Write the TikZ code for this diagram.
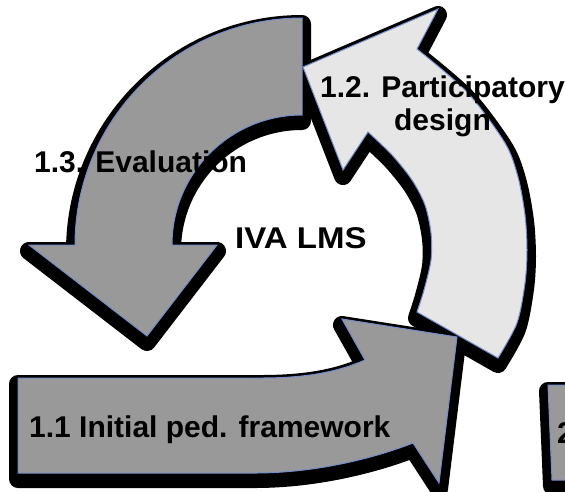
\documentclass[tikz,border=0pt]{standalone}
\usepackage{fontspec}
\setmainfont{Liberation Sans}
\usepackage{graphicx}
\definecolor{edgeblue}{RGB}{116,140,200}
\definecolor{darkfill}{RGB}{153,153,153}
\definecolor{lightfill}{RGB}{230,230,230}
\newcommand\ArrowOneThree{(302,18) arc[start angle=-90,end angle=-180,radius=227] -- (29,245) -- (147,336) -- (217,245) -- (172,245) arc[start angle=-180,end angle=-90,radius=130] -- cycle}
\newcommand\ArrowOneTwo{(303,67) -- (438,9) -- (417,49) -- plot[smooth] coordinates {(417,49) (467,92) (505,143) (518,177) (525,215) (527,250) (525,283) (517,323) (498,358)} -- (417,312) -- plot[smooth] coordinates {(417,312) (424,290) (431,260) (431,233) (425,205) (412,180) (392,155) (368,132)} -- (343,170) -- cycle}
\newcommand\ArrowOneOne{(18,378) -- (262,378) .. controls (312,378) and (342,370) .. (365,360) -- (342,319) -- (457,337) -- (439,483) -- (413,443) .. controls (380,456) and (320,473) .. (255,473) -- (18,473) -- cycle}
\newcommand\BoxTwoOne{(548,385) -- (600,385) -- (600,480) -- (552,480) -- cycle}
\begin{document}
\begin{tikzpicture}[x=1pt,y=-1pt,
  shd/.style={fill=black,draw=black,line width=18pt,line join=round,transform canvas={yshift=-6pt}},
  shp/.style={draw=edgeblue,line width=1pt,line join=miter},
  lbl/.style={font=\fontsize{30}{34}\selectfont\bfseries,inner sep=0pt,text=black}]
\useasboundingbox (0,0) rectangle (565,491);
\clip (0,0) rectangle (565,491);
% shadows
\path[shd] \ArrowOneOne;
\path[shd] \ArrowOneTwo;
\path[shd] \ArrowOneThree;
\path[shd] \BoxTwoOne;
% shapes
\path[shp,fill=darkfill] \ArrowOneOne;
\path[shp,fill=lightfill] \ArrowOneTwo;
\path[shp,fill=darkfill] \ArrowOneThree;
\path[shp,fill=darkfill] \BoxTwoOne;
% labels
\node[lbl,anchor=base west] (t13) at (34,172) {1.3. Evaluation};
\node[lbl,anchor=base] (t12a) at (442.5,97) {1.2. Participatory};
\node[lbl,anchor=base] (t12b) at (442.5,130) {design};
\node[lbl,anchor=base west] (tiva) at (235,248) {\scalebox{1.1}[1]{IVA LMS}};
\node[lbl,anchor=base west] (t11) at (29,437) {1.1 Initial ped. framework};
\node[lbl,anchor=base west] (t21) at (557,443) {2};
\end{tikzpicture}
\end{document}
